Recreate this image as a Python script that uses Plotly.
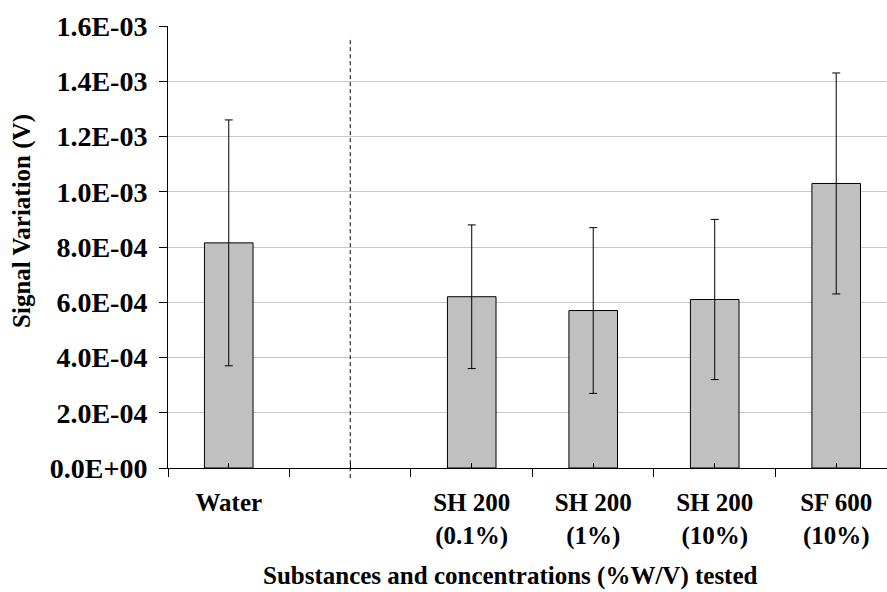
import plotly.graph_objects as go

# Categories (the blank slot separates the water reference from the silicone samples)
categories = ["Water", " ", "SH 200<br>(0.1%)", "SH 200<br>(1%)", "SH 200<br>(10%)", "SF 600<br>(10%)"]
signal_variation = [8.15e-4, None, 6.2e-4, 5.7e-4, 6.1e-4, 1.03e-3]
signal_error = [4.45e-4, None, 2.6e-4, 3.0e-4, 2.9e-4, 4.0e-4]

y_tick_values = [0.0, 2e-4, 4e-4, 6e-4, 8e-4, 1.0e-3, 1.2e-3, 1.4e-3, 1.6e-3]
y_tick_labels = ["0.0E+00", "2.0E-04", "4.0E-04", "6.0E-04", "8.0E-04",
                 "1.0E-03", "1.2E-03", "1.4E-03", "1.6E-03"]

x_title = "Substances and concentrations (%W/V) tested"
y_title = "Signal Variation (V)"

FONT = "Liberation Serif"

fig = go.Figure()
fig.add_trace(go.Bar(
    x=categories,
    y=signal_variation,
    width=0.4,
    marker=dict(color="#c0c0c0", line=dict(color="black", width=1)),
    error_y=dict(type="data", array=signal_error, visible=True,
                 color="black", thickness=1, width=4),
    showlegend=False,
))

# Small inside tick marks at the centre of each category
fig.add_trace(go.Scatter(x=[0, 1, 2, 3, 4, 5], y=[None] * 6, xaxis="x2",
                         showlegend=False, hoverinfo="skip"))

# Dashed separator between the reference and the samples
fig.add_shape(type="line", xref="x", yref="paper",
              x0=1, x1=1, y0=-0.023, y1=0.975,
              line=dict(color="black", width=1, dash="4px,3px"))

# Axis titles
fig.add_annotation(text="<b>" + x_title + "</b>", xref="paper", yref="paper",
                   x=0.4757, y=-0.2443, xanchor="center", yanchor="middle",
                   showarrow=False, font=dict(family=FONT, size=25, color="black"))
fig.add_annotation(text="<b>" + y_title + "</b>", xref="paper", yref="paper",
                   x=-0.203, y=0.559, xanchor="center", yanchor="middle",
                   textangle=-90, showarrow=False,
                   font=dict(family=FONT, size=25, color="black"))

x_range = [-0.5, 5.418]

fig.update_layout(
    width=887, height=592,
    margin=dict(l=168, r=0, t=26, b=124),
    paper_bgcolor="white", plot_bgcolor="white",
    font=dict(family=FONT, color="black"),
    xaxis=dict(
        type="category",
        categoryorder="array", categoryarray=categories,
        range=x_range,
        showline=True, linecolor="black", linewidth=1,
        ticks="outside", tickson="boundaries", ticklen=8, tickcolor="black",
        tickfont=dict(family=FONT, size=25, color="black", weight="bold"),
        ticklabelstandoff=12,
        showgrid=False,
    ),
    xaxis2=dict(
        overlaying="x", range=x_range, showline=False, showgrid=False,
        zeroline=False,
        tickvals=[0, 1, 2, 3, 4, 5], ticks="inside", ticklen=5,
        tickcolor="black", showticklabels=False,
    ),
    yaxis=dict(
        range=[0, 1.6e-3],
        tickvals=y_tick_values, ticktext=y_tick_labels,
        showline=True, linecolor="black", linewidth=1,
        ticks="outside", ticklen=8, tickcolor="black",
        tickfont=dict(family=FONT, size=28, color="black", weight="bold"),
        ticklabelstandoff=6,
        showgrid=True, gridcolor="#c8c8c8", gridwidth=1,
        zeroline=False,
    ),
)

fig.write_html("out.html")
